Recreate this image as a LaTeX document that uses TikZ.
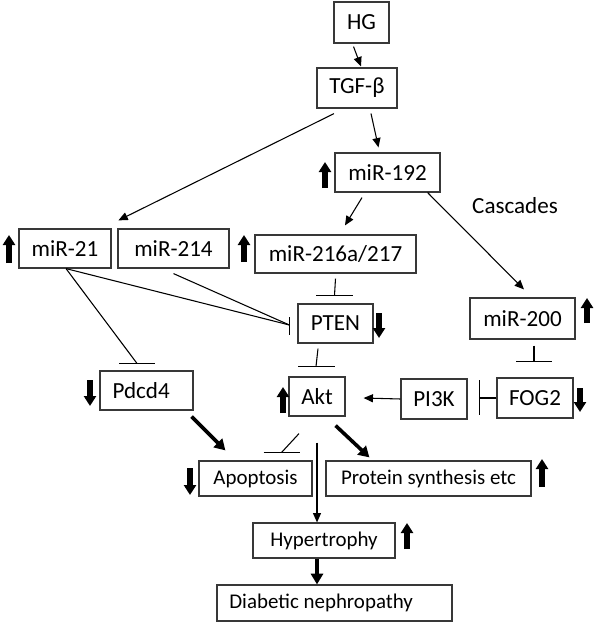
\documentclass[tikz,border=0pt]{standalone}
\usepackage{fontspec}
\setmainfont{Carlito}
\usetikzlibrary{arrows.meta,calc}
\tikzset{
  box/.style={draw=black!78, line width=0.9pt, fill=white, inner sep=0pt, font=\fontsize{17.3}{20}\selectfont},
  sm/.style={font=\fontsize{15.7}{19}\selectfont},
  ln/.style={line width=0.8pt},
  arr/.style={ln, -{Triangle[length=7pt,width=6pt]}},
  thickarr/.style={line width=2.7pt, -{Triangle[length=8pt,width=9pt]}},
  updown/.style={line width=3.8pt, -{Triangle[length=7.5pt,width=9pt]}},
  lbl/.style={font=\fontsize{17.3}{20}\selectfont, inner sep=0pt},
}
\newcommand{\bx}[7][]{\node[box, #1, minimum width={(#5-#3)*0.75pt}, minimum height={(#6-#4)*0.75pt}] (#2) at ({(#3+#5)/2},{(#4+#6)/2}) {#7};}
\newcommand{\upind}[3]{\draw[updown] (#1,#3) -- (#1,#2);}
\newcommand{\downind}[3]{\draw[updown] (#1,#2) -- (#1,#3);}
\begin{document}
\begin{tikzpicture}[x=0.75pt,y=-0.75pt]
\useasboundingbox (0,0) rectangle (596,624);
% boxes
\bx{HG}{334}{2}{389}{43}{HG}
\bx{TGF}{317}{68}{397}{108}{TGF-β}
\bx{m192}{335}{153}{440}{192}{miR-192}
\bx{m21}{19}{229}{111}{268}{miR-21}
\bx{m214}{118}{229}{229}{268}{miR-214}
\bx{m216}{255}{235}{416}{273}{miR-216a/217}
\bx{PTEN}{298}{304}{373}{343}{PTEN}
\bx{m200}{470}{298}{575}{339}{miR-200}
\bx{Pdcd}{100}{371}{193}{410}{Pdcd4\rule{8pt}{0pt}}
\bx{Akt}{289}{377}{345}{416}{Akt}
\bx{PI3K}{401}{379}{467}{419}{PI3K}
\bx{FOG}{497}{378}{573}{418}{FOG2}
\bx[sm]{Apop}{199}{461}{312}{496}{Apoptosis}
\bx[sm]{Prot}{326}{461}{531}{496}{Protein synthesis etc}
\bx[sm]{Hyp}{253}{523}{395}{558}{Hypertrophy}
\bx[sm]{Diab}{217}{585}{452}{621}{Diabetic nephropathy\rule{20pt}{0pt}}
\node[lbl] (casc) at (515,206) {Cascades};
% activating arrows
\draw[arr] ([shift={(-8,3)}]HG.south) -- ([shift={(4,-1)}]TGF.north);
\draw[arr] ([shift={(-23,5)}]TGF.south) -- ([shift={(1,-8)}]m214.north west);
\draw[arr] ([shift={(14,5)}]TGF.south) -- ([shift={(-9,-5)}]m192.north);
\draw[arr] ([shift={(-25.5,5)}]m192.south) -- ([shift={(9.5,-9)}]m216.north);
\draw[arr] ([shift={(-13,0)}]m192.south east) -- ([shift={(1.5,-8)}]m200.north);
\draw[arr] (PI3K.west) -- ([shift={(18,1.5)}]Akt.east);
\draw[arr] ([shift={(0,26)}]Akt.south) -- ([shift={(-7,0)}]Hyp.north);
\draw[thickarr] ([shift={(-2,6)}]Pdcd.south east) -- ([shift={(27,-10)}]Apop.north west);
\draw[thickarr] ([shift={(-10,9)}]Akt.south east) -- ([shift={(44,-3)}]Prot.north west);
\draw[thickarr] ([shift={(-7,0)}]Hyp.south) -- ([shift={(-17.5,0)}]Diab.north);
% inhibitions
\draw[ln] ([shift={(0,5)}]m216.south) -- ([shift={(-1,-8)}]PTEN.north) coordinate (t1);
\draw[ln] ([shift={(-18.5,0)}]t1) -- ([shift={(18.5,0)}]t1);
\draw[ln] ([shift={(-17.5,5)}]PTEN.south) -- ([shift={(-1,-10)}]Akt.north) coordinate (t2);
\draw[ln] ([shift={(-18,0)}]t2) -- ([shift={(19,0)}]t2);
\draw[ln] ([shift={(11.5,6)}]m200.south) -- ([shift={(-1,-16)}]FOG.north) coordinate (t3);
\draw[ln] ([shift={(-18,0)}]t3) -- ([shift={(18,0)}]t3);
\draw[ln] (FOG.west) -- ([shift={(12,-1)}]PI3K.east) coordinate (t4);
\draw[ln] ([shift={(0,-18)}]t4) -- ([shift={(0,17)}]t4);
\draw[ln] ([shift={(1,0)}]m21.south) -- ([shift={(-8,1.5)}]PTEN.west) coordinate (t5);
\draw[ln] ([shift={(0,5)}]m214.south) -- (t5);
\draw[ln] ([shift={(0,-8)}]t5) -- ([shift={(0,10)}]t5);
\draw[ln] ([shift={(1,0)}]m21.south) -- ([shift={(-9.5,-7)}]Pdcd.north) coordinate (t6);
\draw[ln] ([shift={(-18,0)}]t6) -- ([shift={(18,0)}]t6);
\draw[ln] ([shift={(-18,17)}]Akt.south) -- ([shift={(-31,-8)}]Apop.north east) coordinate (t7);
\draw[ln] ([shift={(-18,0)}]t7) -- ([shift={(18,0)}]t7);
% up/down indicators
\upind{9}{235}{263}
\upind{244}{235}{262}
\upind{325}{162}{188}
\downind{379}{313}{338}
\upind{587}{298}{323}
\downind{580}{388}{412}
\downind{90}{380}{406}
\upind{283}{387}{413}
\downind{190}{468}{495}
\upind{542}{459}{487}
\upind{407}{523}{549}
\end{tikzpicture}
\end{document}
